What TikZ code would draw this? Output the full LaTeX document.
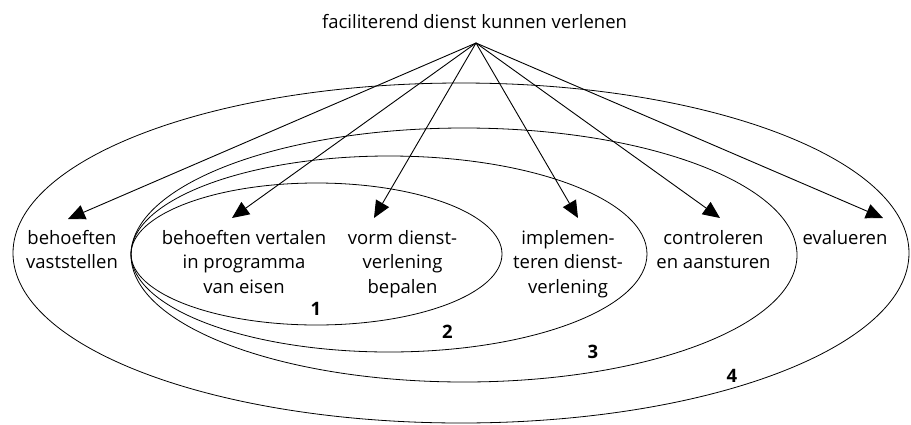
\documentclass[tikz,border=0pt]{standalone}
\usepackage{fontspec}
\setmainfont{Open Sans}
\usetikzlibrary{arrows.meta}
\begin{document}
\begin{tikzpicture}[x=1pt,y=-1pt,
  loopline/.style={draw=black, line width=0.8pt},
  arr/.style={-{Triangle[length=17pt,width=15pt]}, line width=0.9pt},
  lbl/.style={align=center, anchor=north, inner sep=0pt, font=\fontsize{18.5}{24.5}\selectfont},
  ttl/.style={anchor=base, inner sep=0pt, font=\fontsize{18.5}{24.5}\selectfont},
  num/.style={anchor=base, inner sep=0pt, font=\fontsize{18.5}{20}\selectfont\bfseries}]
\useasboundingbox (0,0) rectangle (911,424);
% loops
\draw[loopline] (461,253) ellipse [x radius=448, y radius=170];
\draw[loopline] (464,255) ellipse [x radius=333, y radius=127];
\draw[loopline] (389,254) ellipse [x radius=258, y radius=98];
\draw[loopline] (316.5,254) ellipse [x radius=185.5, y radius=71];
% title and apex
\node[ttl] (title) at (474.5,28) {faciliterend dienst kunnen verlenen};
\coordinate (apex) at (476,43);
% labels
\node[lbl] (l1) at (72,230) {behoeften\\vaststellen};
\node[lbl] (l2) at (244,230) {behoeften vertalen\\in programma\\van eisen};
\node[lbl] (l3) at (402.5,230) {vorm dienst-\\verlening\\bepalen};
\node[lbl] (l4) at (568,230) {implemen-\\teren dienst-\\verlening};
\node[lbl] (l5) at (713.5,230) {controleren\\en aansturen};
\node[lbl] (l6) at (845,230) {evalueren};
% arrow tips
\coordinate (t1) at (68,219);
\coordinate (t2) at (232,218);
\coordinate (t3) at (374,218);
\coordinate (t4) at (578,218);
\coordinate (t5) at (720,218);
\coordinate (t6) at (883,218);
\foreach \t in {t1,t2,t3,t4,t5,t6}
  \draw[arr] (apex) -- (\t);
% numbers
\node[num] (n1) at (316,315) {1};
\node[num] (n2) at (447.5,338) {2};
\node[num] (n3) at (593,358) {3};
\node[num] (n4) at (732,382) {4};
\end{tikzpicture}
\end{document}
